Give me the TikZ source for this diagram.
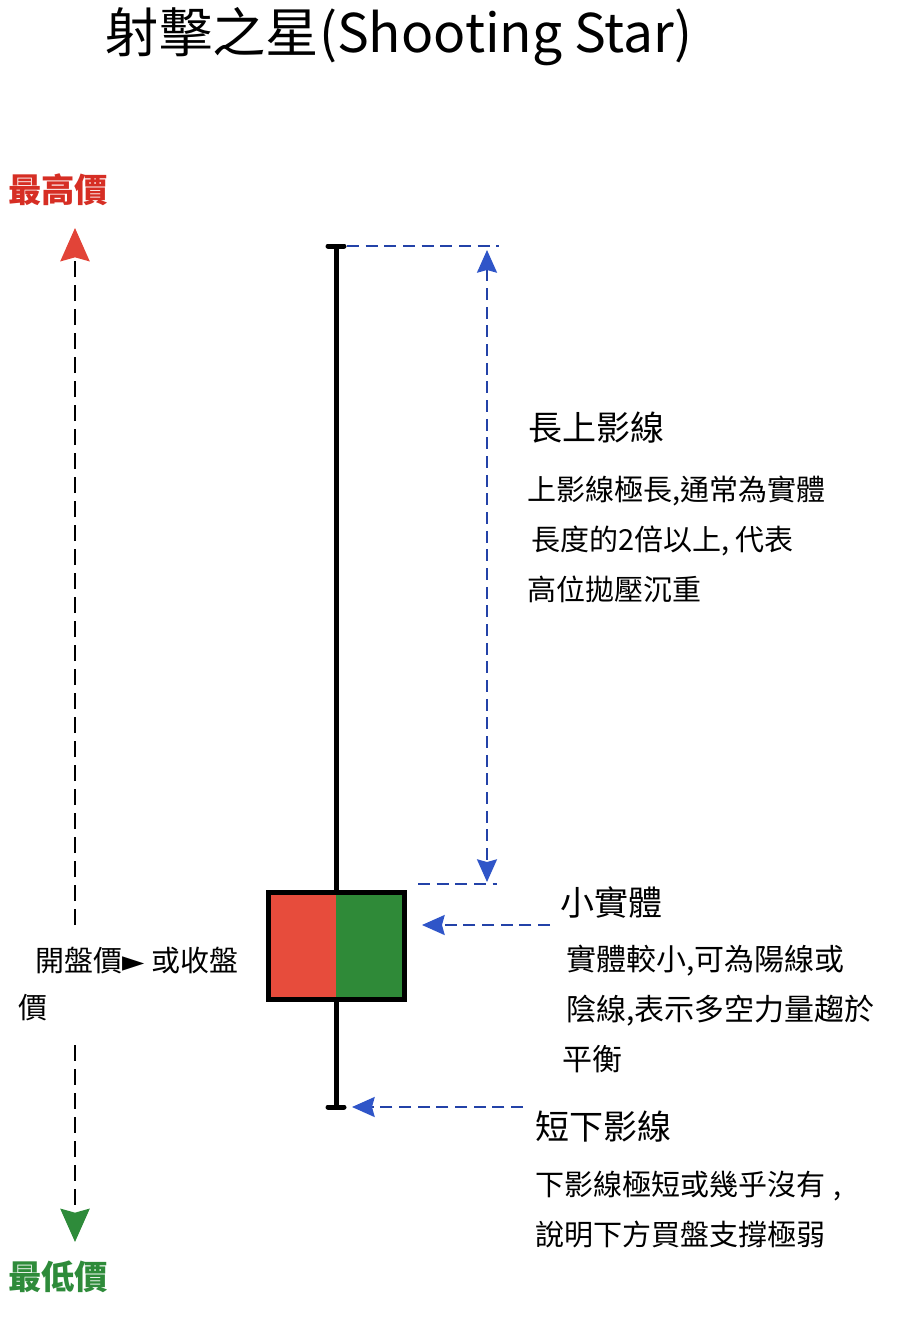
\documentclass[tikz,border=0pt]{standalone}
\usepackage{fontspec}
\setmainfont{Noto Sans CJK TC}
\newfontfamily\symfont{DejaVu Sans}
\usetikzlibrary{arrows.meta,positioning}

\definecolor{highred}{RGB}{214,46,36}
\definecolor{tipred}{RGB}{226,68,56}
\definecolor{bodyred}{RGB}{231,76,60}
\definecolor{bodygreen}{RGB}{47,138,56}
\definecolor{lowgreen}{RGB}{46,139,58}
\definecolor{guideblue}{RGB}{35,66,168}
\definecolor{tipblue}{RGB}{47,85,200}

\begin{document}
\begin{tikzpicture}[x=0.75pt, y=-0.75pt,
    every node/.style={inner sep=0pt},
    heading/.style={anchor=west, font=\fontsize{25.5}{30}\selectfont},
    note/.style={anchor=north west, align=left, font=\fontsize{21.75}{37.5}\selectfont},
    pricetag/.style={font=\fontsize{25}{30}\selectfont\bfseries},
    guide/.style={guideblue, line width=1.5pt, dash pattern=on 9pt off 5pt},
    bluetip/.style={-{Stealth[length=17pt, width=15pt, inset=2pt, color=tipblue]}}]

    \useasboundingbox (0,0) rectangle (910,1318);

    % Title
    \node[font=\fontsize{40}{44}\selectfont] (title) at (399,37) {射擊之星(Shooting Star)};

    % Price range on the left
    \node[pricetag, text=highred] (highlbl) at (58,190) {最高價};
    \node[pricetag, text=lowgreen] (lowlbl) at (58,1277) {最低價};
    \coordinate (hi) at (75,228);
    \coordinate (lo) at (75,1242);
    \node[anchor=north west, align=left, font=\fontsize{21.75}{35}\selectfont] (openlbl) at (18,947)
        {\hspace*{12.75pt}開盤價{\symfont ►} 或收盤\\價};
    \coordinate (gaptop) at (75,925);
    \coordinate (gapbot) at (75,1045);
    \draw[line width=1.5pt, dash pattern=on 12pt off 6pt,
        -{Stealth[length=25pt, width=22pt, inset=3pt, color=tipred]}] (gaptop) -- (hi);
    \draw[line width=1.5pt, dash pattern=on 12pt off 6pt,
        -{Stealth[length=25pt, width=22pt, inset=3pt, color=lowgreen]}] (gapbot) -- (lo);

    % Candle
    \coordinate (wicktop) at (336,246);
    \coordinate (wickbot) at (336,1107);
    \fill[bodyred] (268,892) rectangle (336,999);
    \fill[bodygreen] (336,892) rectangle (404,999);
    \node[draw, line width=3.75pt, minimum width=102pt, minimum height=80.25pt] (body) at (336,945.5) {};
    \draw[line width=3.75pt] (wicktop) -- (body.north);
    \draw[line width=3.75pt] (body.south) -- (wickbot);
    \draw[line width=3.75pt, line cap=round] (328,246) -- (344,246);
    \draw[line width=3.75pt, line cap=round] (328,1107) -- (344,1107);

    % Upper shadow length
    \coordinate (uptip) at (487,250);
    \coordinate (dntip) at (487,882);
    \draw[guide] (347,246) -- (499,246);
    \draw[guide] (418,884) -- (497,884);
    \draw[guide, {Stealth[length=17pt, width=15pt, inset=2pt, color=tipblue]}-{Stealth[length=17pt, width=15pt, inset=2pt, color=tipblue]}] (uptip) -- (dntip);

    % Pointers to body and lower shadow
    \coordinate (bodyfrom) at (550,925);
    \coordinate (bodyto) at (422,925);
    \coordinate (lowfrom) at (523,1107);
    \coordinate (lowto) at (352,1107);
    \draw[guide, bluetip] (bodyfrom) -- (bodyto);
    \draw[guide, bluetip] (lowfrom) -- (lowto);

    % Explanations
    \node[heading] (upperhead) at (528,428) {長上影線};
    \node[note] (uppernote) at (527,476) {上影線極長,通常為實體\\\hspace*{3pt}長度的2倍以上, 代表\\高位拋壓沉重};

    \node[heading] (bodyhead) at (560,902) {小實體};
    \node[note, font=\fontsize{22.5}{37.5}\selectfont] (bodynote) at (566,945) {實體較小,可為陽線或\\陰線,表示多空力量趨於\\\hspace*{-3pt}平衡};

    \node[heading] (lowhead) at (535,1127) {短下影線};
    \node[note] (lownote) at (535,1171) {下影線極短或幾乎沒有\hspace{0.3em},\\說明下方買盤支撐極弱};

\end{tikzpicture}
\end{document}
